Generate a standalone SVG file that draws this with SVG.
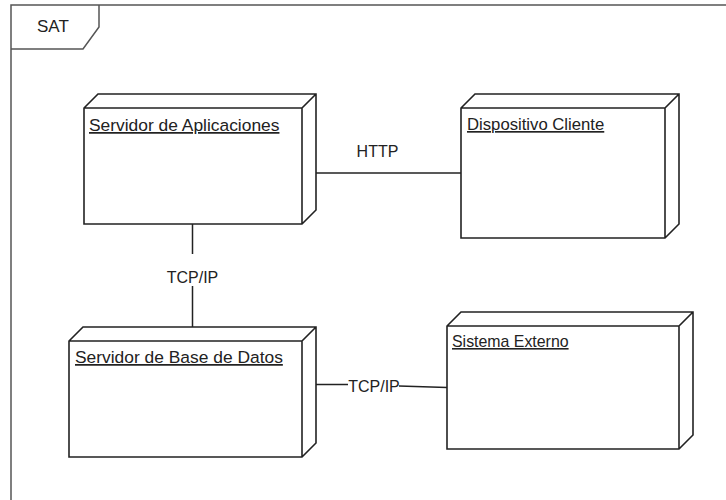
<svg xmlns="http://www.w3.org/2000/svg" width="726" height="500" viewBox="0 0 726 500">
<style>
.frame{fill:none;stroke:#555;stroke-width:1.5}
.node{fill:#fff;stroke:#222;stroke-width:1.6;stroke-linejoin:miter}
.edge{fill:none;stroke:#222;stroke-width:1.5}
.lbl{font-family:"Liberation Sans",Arial,sans-serif;fill:#222;text-decoration:underline}
.elbl{font-family:"Liberation Sans",Arial,sans-serif;fill:#222;font-size:16px;text-anchor:middle}
</style>
<rect x="0" y="0" width="726" height="500" fill="#fff"/>
<g id="frame">
<rect class="frame" x="11" y="5" width="730" height="510"/>
<path class="frame" d="M11,49 H83 L99,27 V5"/>
<text x="37" y="32" style="font-family:'Liberation Sans',Arial,sans-serif;font-size:17px;fill:#222">SAT</text>
</g>
<g id="connectors">
<path class="edge" d="M316,173 H461"/>
<text class="elbl" x="377.5" y="157">HTTP</text>
<path class="edge" d="M192.5,224 V254 M192.5,286 V327"/>
<text class="elbl" x="192.5" y="283">TCP/IP</text>
<path class="edge" d="M316,384.5 L348,384.5 M399,386 L447,387.5"/>
<text class="elbl" x="374" y="391.5">TCP/IP</text>
</g>
<g id="servidor-aplicaciones">
<path class="node" d="M84,108 L98,94 H316 V210 L302,224 H84 Z M84,108 H302 V224 M302,108 L316,94"/>
<text class="lbl" x="89" y="131" font-size="17.4">Servidor de Aplicaciones</text>
</g>
<g id="dispositivo-cliente">
<path class="node" d="M461,108 L475,94 H679 V224 L665,238 H461 Z M461,108 H665 V238 M665,108 L679,94"/>
<text class="lbl" x="467" y="130" font-size="16.7">Dispositivo Cliente</text>
</g>
<g id="servidor-base-datos">
<path class="node" d="M69,341 L83,327 H316 V443 L302,457 H69 Z M69,341 H302 V457 M302,341 L316,327"/>
<text class="lbl" x="75" y="363" font-size="17.4">Servidor de Base de Datos</text>
</g>
<g id="sistema-externo">
<path class="node" d="M447,326 L461,312 H693 V435 L679,449 H447 Z M447,326 H679 V449 M679,326 L693,312"/>
<text class="lbl" x="452" y="347" font-size="15.9">Sistema Externo</text>
</g>
</svg>
